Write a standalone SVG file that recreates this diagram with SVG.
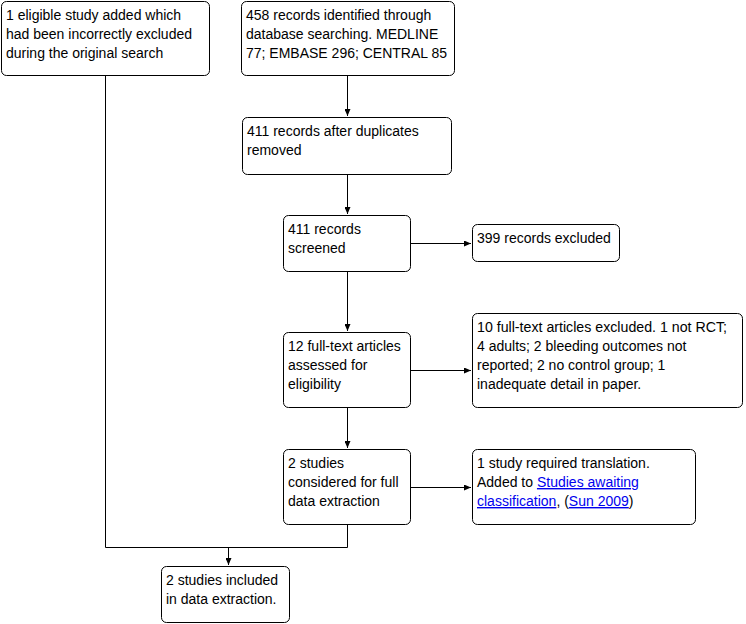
<svg xmlns="http://www.w3.org/2000/svg" width="746" height="624" viewBox="0 0 746 624">
<style>
.box{fill:#fff;stroke:#000;stroke-width:1}
.t{font-family:"Liberation Sans",Arial,sans-serif;font-size:14px;fill:#000}
.lk{fill:#0000ee;text-decoration:underline}
.c{fill:none;stroke:#000;stroke-width:1}
</style>
<defs>
<marker id="ah" markerWidth="8" markerHeight="6" refX="7" refY="3" orient="auto" markerUnits="userSpaceOnUse">
<path d="M0,0 L7,3 L0,6 z" fill="#000"/>
</marker>
</defs>
<rect width="746" height="624" fill="#fff"/>
<g id="connectors">
<path class="c" d="M347.5,76 V116" marker-end="url(#ah)"/>
<path class="c" d="M347.5,174 V214" marker-end="url(#ah)"/>
<path class="c" d="M347.5,272 V331" marker-end="url(#ah)"/>
<path class="c" d="M347.5,408 V448" marker-end="url(#ah)"/>
<path class="c" d="M411,243.5 H471" marker-end="url(#ah)"/>
<path class="c" d="M411,370.5 H471" marker-end="url(#ah)"/>
<path class="c" d="M411,487.5 H471" marker-end="url(#ah)"/>
<path class="c" d="M105.5,76 V547.5 H347.5 V525"/>
<path class="c" d="M228.5,547.5 V565" marker-end="url(#ah)"/>
</g>
<g id="nA"><rect class="box" x="1.5" y="1.5" width="208" height="74" rx="5"/>
<text class="t" x="6" y="20">1 eligible study added which</text>
<text class="t" x="6" y="39">had been incorrectly excluded</text>
<text class="t" x="6" y="58">during the original search</text></g>
<g id="nB"><rect class="box" x="241.5" y="1.5" width="213" height="74" rx="5"/>
<text class="t" x="246" y="20">458 records identified through</text>
<text class="t" x="246" y="39">database searching. MEDLINE</text>
<text class="t" x="246" y="58">77; EMBASE 296; CENTRAL 85</text></g>
<g id="nC"><rect class="box" x="242.5" y="117.5" width="209" height="57" rx="5"/>
<text class="t" x="247" y="136">411 records after duplicates</text>
<text class="t" x="247" y="155">removed</text></g>
<g id="nD"><rect class="box" x="283.5" y="215.5" width="127" height="56" rx="5"/>
<text class="t" x="288" y="234">411 records</text>
<text class="t" x="288" y="253">screened</text></g>
<g id="nE"><rect class="box" x="472.5" y="224.5" width="147" height="37" rx="5"/>
<text class="t" x="477" y="243">399 records excluded</text></g>
<g id="nF"><rect class="box" x="283.5" y="332.5" width="127" height="75" rx="5"/>
<text class="t" x="288" y="351">12 full-text articles</text>
<text class="t" x="288" y="370">assessed for</text>
<text class="t" x="288" y="389">eligibility</text></g>
<g id="nG"><rect class="box" x="472.5" y="313.5" width="270" height="94" rx="5"/>
<text class="t" x="477" y="332" textLength="250" lengthAdjust="spacingAndGlyphs">10 full-text articles excluded. 1 not RCT;</text>
<text class="t" x="477" y="351">4 adults; 2 bleeding outcomes not</text>
<text class="t" x="477" y="370">reported; 2 no control group; 1</text>
<text class="t" x="477" y="389">inadequate detail in paper.</text></g>
<g id="nH"><rect class="box" x="283.5" y="449.5" width="127" height="75" rx="5"/>
<text class="t" x="288" y="468">2 studies</text>
<text class="t" x="288" y="487">considered for full</text>
<text class="t" x="288" y="506">data extraction</text></g>
<g id="nI"><rect class="box" x="472.5" y="449.5" width="223" height="75" rx="5"/>
<text class="t" x="477" y="468">1 study required translation.</text>
<text class="t" x="477" y="487">Added to <tspan class="lk">Studies awaiting</tspan></text>
<text class="t" x="477" y="506"><tspan class="lk">classification</tspan>, (<tspan class="lk">Sun 2009</tspan>)</text></g>
<g id="nJ"><rect class="box" x="161.5" y="566.5" width="128" height="56" rx="5"/>
<text class="t" x="166" y="585">2 studies included</text>
<text class="t" x="166" y="604">in data extraction.</text></g>
</svg>
